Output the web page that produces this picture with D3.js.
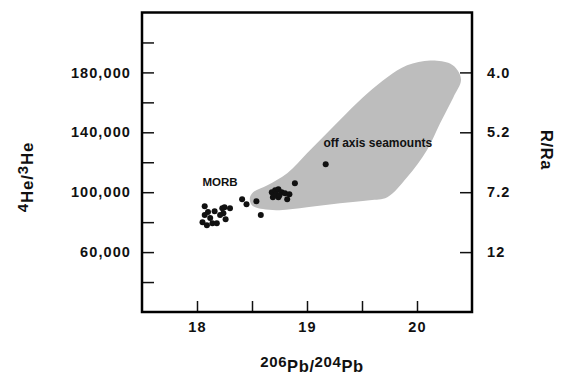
<!DOCTYPE html>
<html>
<head>
<meta charset="utf-8">
<script src="https://cdn.jsdelivr.net/npm/d3@7"></script>
<style>
  body { margin: 0; background: #fff; }
  svg { display: block; font-family: "Liberation Sans", Arial, Helvetica, sans-serif; }
</style>
</head>
<body>
<div id="chart"></div>
<script>
// 206Pb/204Pb vs 4He/3He
const morbPb = [18.07, 18.10, 18.12, 18.05, 18.09, 18.14, 18.18, 18.16, 18.23, 18.25, 18.30, 18.24, 18.26, 18.07, 18.21, 18.41, 18.45, 18.54, 18.58];
const morbHe = [90700, 86700, 82700, 80000, 78000, 79300, 79300, 87300, 89300, 90000, 89300, 86000, 82000, 84700, 84700, 95300, 92000, 94000, 84700];

const seamountPb = [18.68, 18.71, 18.74, 18.77, 18.80, 18.84, 18.82, 18.69, 18.74, 18.72, 18.75, 18.89, 19.17];
const seamountHe = [100000, 101300, 102000, 100000, 99300, 98700, 95300, 96700, 96700, 98700, 98000, 106000, 118700];

// outline of the off-axis seamount field
const fieldPb = [18.48, 18.51, 18.64, 18.82, 19.00, 19.18, 19.36, 19.55, 19.73, 19.91, 20.12, 20.30, 20.37, 20.40, 20.33, 20.21, 20.09, 19.91, 19.73, 19.57, 19.30, 19.00, 18.75, 18.60, 18.50];
const fieldHe = [96000, 100000, 104700, 112700, 126000, 139300, 152700, 166000, 176700, 184700, 188000, 186000, 181300, 174700, 163300, 146000, 128000, 110000, 96700, 94700, 92700, 90000, 88000, 88700, 91300];

const xTicks = [18, 18.5, 19, 19.5, 20];
const xTickLabels = ["18", "", "19", "", "20"];
const heTicks = [40000, 60000, 80000, 100000, 120000, 140000, 160000, 180000, 200000];
const heTickLabels = ["", "60,000", "", "100,000", "", "140,000", "", "180,000", ""];
const rRaTicks = [180000, 140000, 100000, 60000];
const rRaLabels = ["4.0", "5.2", "7.2", "12"];

const W = 562, H = 376;
const margin = { left: 142, right: 90, top: 12.5, bottom: 64 };
const width = W - margin.left - margin.right;
const height = H - margin.top - margin.bottom;

const svg = d3.select("#chart").append("svg")
  .attr("width", W)
  .attr("height", H);

const x = d3.scaleLinear().domain([17.5, 20.5]).range([margin.left, margin.left + width]);
const y = d3.scaleLinear().domain([20000, 220000]).range([margin.top + height, margin.top]);

// shaded field
const field = fieldPb.map((p, i) => [p, fieldHe[i]]);
svg.append("path")
  .datum(field)
  .attr("fill", "#bdbdbd")
  .attr("d", d3.line().x(d => x(d[0])).y(d => y(d[1])).curve(d3.curveCatmullRomClosed.alpha(0.5)));

// points
const pts = morbPb.map((p, i) => [p, morbHe[i]])
  .concat(seamountPb.map((p, i) => [p, seamountHe[i]]));
svg.append("g").selectAll("circle")
  .data(pts)
  .join("circle")
  .attr("cx", d => x(d[0]))
  .attr("cy", d => y(d[1]))
  .attr("r", 3)
  .attr("fill", "#111");

// annotations
svg.append("text")
  .attr("x", x(18.05)).attr("y", y(104000))
  .attr("font-size", 11.5).attr("font-weight", "bold").attr("fill", "#111")
  .text("MORB");
svg.append("text")
  .attr("x", x(19.15)).attr("y", y(130000))
  .attr("font-size", 12).attr("font-weight", "bold").attr("fill", "#111")
  .text("off axis seamounts");

// axes
const tickFont = g => g.selectAll("text")
  .attr("font-size", 14.5).attr("font-weight", "bold").attr("fill", "#111")
  .attr("letter-spacing", 1.1).attr("font-family", "Liberation Sans, Arial, sans-serif");

const xAxis = d3.axisBottom(x).tickValues(xTicks)
  .tickFormat((d, i) => xTickLabels[i]).tickSize(-11).tickPadding(10);
svg.append("g").attr("transform", `translate(0,${margin.top + height})`)
  .call(xAxis).call(g => g.select(".domain").remove()).call(tickFont);

const yAxis = d3.axisLeft(y).tickValues(heTicks)
  .tickFormat((d, i) => heTickLabels[i]).tickSize(-12).tickPadding(11);
svg.append("g").attr("transform", `translate(${margin.left},0)`)
  .call(yAxis).call(g => g.select(".domain").remove()).call(tickFont);

const rAxis = d3.axisRight(y).tickValues(rRaTicks)
  .tickFormat((d, i) => rRaLabels[i]).tickSize(-12).tickPadding(15);
svg.append("g").attr("transform", `translate(${margin.left + width},0)`)
  .call(rAxis).call(g => g.select(".domain").remove()).call(tickFont);

svg.selectAll(".tick line").attr("stroke", "#111").attr("stroke-width", 1.5);

// frame
svg.append("rect")
  .attr("x", margin.left).attr("y", margin.top)
  .attr("width", width).attr("height", height)
  .attr("fill", "none").attr("stroke", "#000").attr("stroke-width", 2.5);

// axis titles
const xt = svg.append("text")
  .attr("x", margin.left + width / 2 + 5).attr("y", 372)
  .attr("text-anchor", "middle").attr("font-size", 16.5).attr("font-weight", "bold")
  .attr("fill", "#111").attr("letter-spacing", 0.6);
xt.append("tspan").attr("font-size", 15).attr("dy", -5).text("206");
xt.append("tspan").attr("dy", 5).text("Pb/");
xt.append("tspan").attr("font-size", 15).attr("dy", -5).text("204");
xt.append("tspan").attr("dy", 5).text("Pb");

const yt = svg.append("text")
  .attr("transform", `translate(33,177) rotate(-90)`)
  .attr("text-anchor", "middle").attr("font-size", 17).attr("font-weight", "bold")
  .attr("fill", "#111").attr("letter-spacing", 0.8);
yt.append("tspan").attr("font-size", 15).attr("dy", -5).text("4");
yt.append("tspan").attr("dy", 5).text("He/");
yt.append("tspan").attr("font-size", 15).attr("dy", -5).text("3");
yt.append("tspan").attr("dy", 5).text("He");

svg.append("text")
  .attr("transform", `translate(541,150) rotate(90)`)
  .attr("text-anchor", "middle").attr("font-size", 16.5).attr("font-weight", "bold")
  .attr("fill", "#111").attr("letter-spacing", 0.6)
  .text("R/Ra");
</script>
</body>
</html>
